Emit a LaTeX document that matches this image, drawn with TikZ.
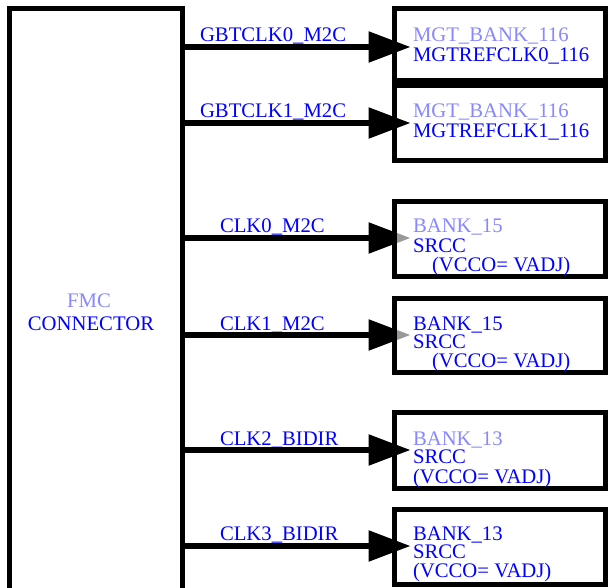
\documentclass[tikz,border=0pt]{standalone}
\usepackage{fontspec}
\setmainfont{Liberation Serif}
\usetikzlibrary{arrows.meta}
\definecolor{dblue}{RGB}{0,0,255}
\definecolor{lblue}{RGB}{136,136,255}
\begin{document}
\begin{tikzpicture}[x=1pt,y=-1pt,
  blk/.style={draw=black, line width=5pt, fill=white, outer sep=0pt, inner sep=0pt, anchor=north west},
  txt/.style={inner sep=0pt, outer sep=0pt, anchor=base west, font=\fontsize{20.7}{22}\selectfont},
  dk/.style={txt, text=dblue},
  lt/.style={txt, text=lblue},
  conn/.style={line width=5.5pt, -{Triangle[length=42pt,width=30pt]}, shorten >=-16pt},
  pin/.style={fill=gray!80}]
\clip (0,0) rectangle (608,588);
\useasboundingbox (0,0) rectangle (608,588);
% FMC connector
\node[blk, minimum width=173pt, minimum height=600pt] (fmc) at (9.5,8.5) {};
\node[lt, anchor=base] (fmct) at (89,308) {FMC};
\node[dk, anchor=base] (fmcc) at (91,330) {CONNECTOR};
% target boxes
\node[blk, minimum width=210.5pt, minimum height=72pt] (b1) at (394.5,8.5) {};
\node[blk, minimum width=210.5pt, minimum height=75.5pt] (b2) at (394.5,85.5) {};
\node[blk, minimum width=210.5pt, minimum height=76pt] (b5) at (394.5,412.5) {};
\node[blk, minimum width=210.5pt, minimum height=75.5pt] (b6) at (394.5,509) {};
% rows
\coordinate (y1) at (0,47);
\coordinate (y2) at (0,123);
\coordinate (y3) at (0,238);
\coordinate (y4) at (0,335);
\coordinate (y5) at (0,450);
\coordinate (y6) at (0,546);
% labels
\node[dk] (l1) at (200,42) {GBTCLK0\_M2C};
\node[dk] (l2) at (200,118) {GBTCLK1\_M2C};
\node[dk] (l3) at (220,233) {CLK0\_M2C};
\node[dk] (l4) at (220,330) {CLK1\_M2C};
\node[dk] (l5) at (220,445) {CLK2\_BIDIR};
\node[dk] (l6) at (220,540) {CLK3\_BIDIR};
% connectors
\draw[conn] (fmc.east |- y1) -- (b1.west |- y1);
\draw[conn] (fmc.east |- y2) -- (b2.west |- y2);
\draw[conn] (fmc.east |- y3) -- (b1.west |- y3);
\draw[conn] (fmc.east |- y4) -- (b1.west |- y4);
\draw[conn] (fmc.east |- y5) -- (b5.west |- y5);
\draw[conn] (fmc.east |- y6) -- (b6.west |- y6);
% boxes drawn over their arrow tips
\node[blk, minimum width=210.5pt, minimum height=75.5pt] (b3) at (394.5,201.5) {};
\node[blk, minimum width=210.5pt, minimum height=74pt] (b4) at (394.5,298.5) {};
\fill[pin] (397,233) -- (410,238) -- (397,243) -- cycle;
\fill[pin] (397,330) -- (410,335) -- (397,340) -- cycle;
% box texts
\node[lt] (t1a) at (413,42) {MGT\_BANK\_116};
\node[dk] (t1b) at (413,62) {MGTREFCLK0\_116};
\node[lt] (t2a) at (413,118) {MGT\_BANK\_116};
\node[dk] (t2b) at (413,138) {MGTREFCLK1\_116};
\node[lt] (t3a) at (413,233) {BANK\_15};
\node[dk] (t3b) at (413,253) {SRCC};
\node[dk] (t3c) at (432,272) {(VCCO= VADJ)};
\node[dk] (t4a) at (413,330) {BANK\_15};
\node[dk] (t4b) at (413,348) {SRCC};
\node[dk] (t4c) at (432,367) {(VCCO= VADJ)};
\node[lt] (t5a) at (413,445) {BANK\_13};
\node[dk] (t5b) at (413,463) {SRCC};
\node[dk] (t5c) at (413,483) {(VCCO= VADJ)};
\node[dk] (t6a) at (413,540) {BANK\_13};
\node[dk] (t6b) at (413,558) {SRCC};
\node[dk] (t6c) at (413,577) {(VCCO= VADJ)};
\end{tikzpicture}
\end{document}
